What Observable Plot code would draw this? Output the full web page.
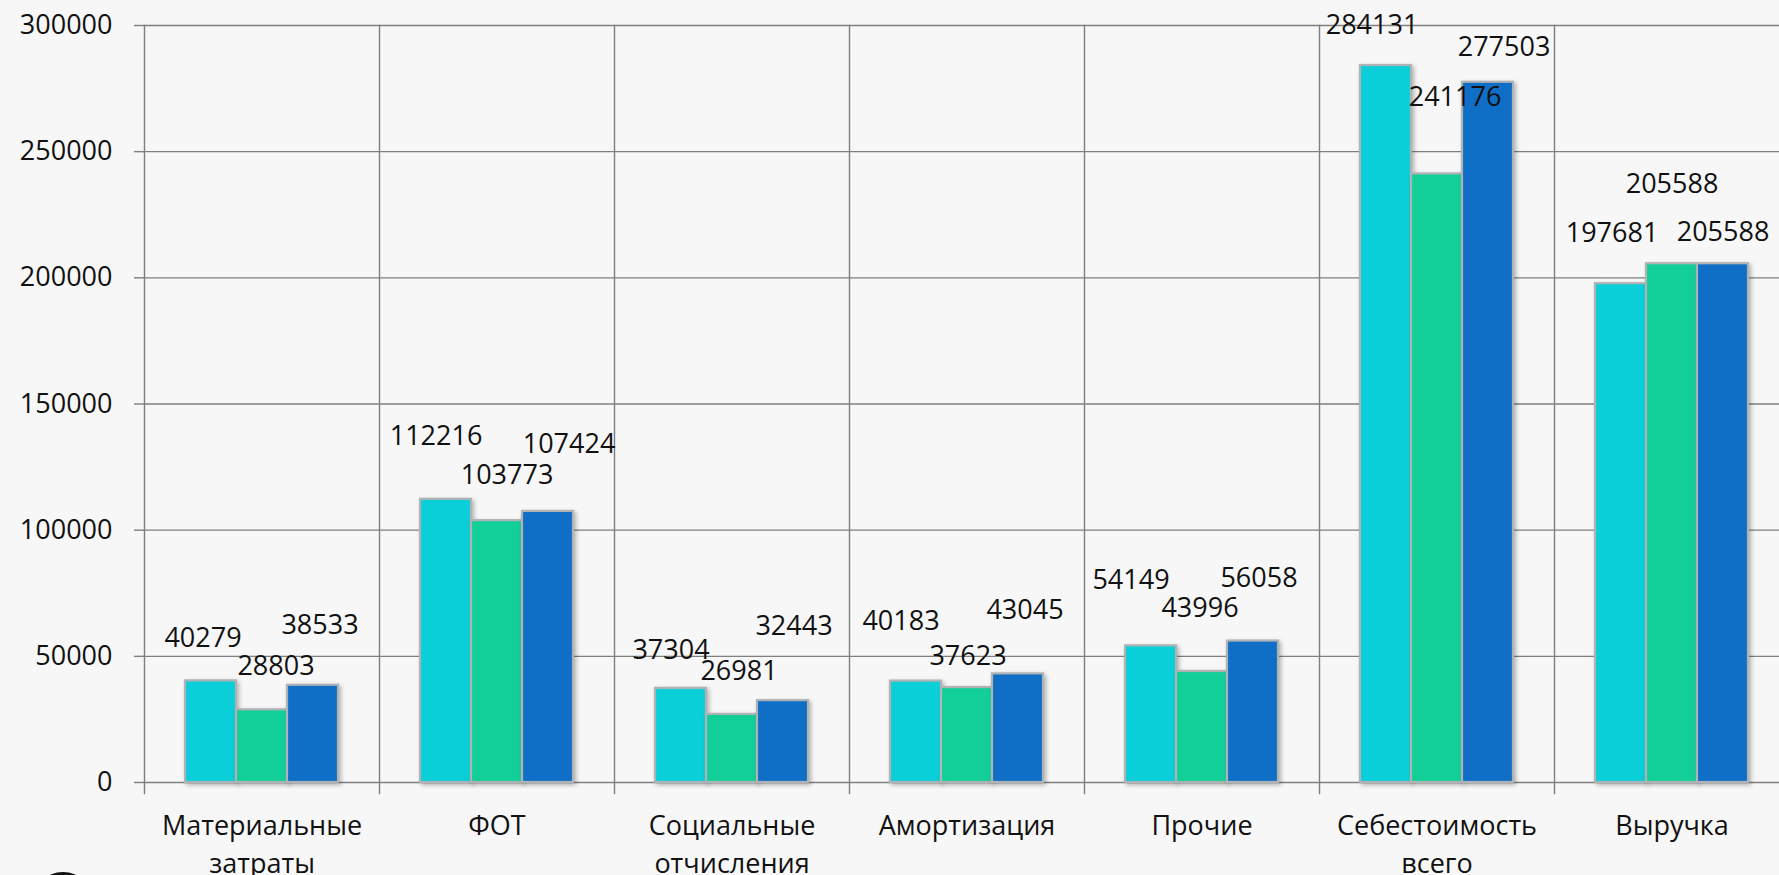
<!DOCTYPE html>
<html>
<head>
<meta charset="utf-8">
<script src="https://cdn.jsdelivr.net/npm/d3@7"></script>
<script src="https://cdn.jsdelivr.net/npm/@observablehq/plot@0.6"></script>
<style>
  html, body { margin: 0; padding: 0; background: #f7f7f7; overflow: hidden; width: 1779px; height: 875px; }
  #chart { position: absolute; left: 0; top: 0; }
  #chart svg { overflow: hidden; }
  .deco { position: absolute; left: 33px; top: 872px; width: 52px; height: 52px; border: 4px solid #111; border-radius: 50%; }
  g[aria-label="bar"] rect { filter: drop-shadow(2px 2px 2px rgba(0,0,0,0.28)); }
</style>
</head>
<body>
<div id="chart"></div>
<div class="deco"></div>
<script>
// ---- data ----
const categories = ["Материальные\nзатраты", "ФОТ", "Социальные\nотчисления", "Амортизация", "Прочие", "Себестоимость\nвсего", "Выручка"];
const seriesNames = ["Ряд 1", "Ряд 2", "Ряд 3"];
const series1 = [40279, 112216, 37304, 40183, 54149, 284131, 197681];
const series2 = [28803, 103773, 26981, 37623, 43996, 241176, 205588];
const series3 = [38533, 107424, 32443, 43045, 56058, 277503, 205588];
const yTicks = [0, 50000, 100000, 150000, 200000, 250000, 300000];

// ---- styles (data-label nudges in px, as placed in the original) ----
const colors = ["#0bcfd8", "#12cf98", "#0f6ec6"];
const labelNudgeX = [
  [-8, -10, -10, -15, -20, -14, -9],
  [14, 10, 7, 1, -2, 18, 0],
  [7, 21, 11, 7, 6, 16, 0]
];
const labelNudgeY = [
  [-43, -63, -38, -60, -66, -40, -50],
  [-43, -45, -43, -31, -63, -77, -79],
  [-60, -67, -74, -64, -63, -35, -31]
];
const gridColor = "#7f7f7f";

const allSeries = [series1, series2, series3];
const rows = [];
allSeries.forEach((vals, s) => {
  vals.forEach((v, i) => rows.push({category: categories[i], series: seriesNames[s], value: v, s, i}));
});

const fmt = d3.format("d");

const plot = Plot.plot({
  width: 1779,
  height: 875,
  marginTop: 25,
  marginBottom: 93,
  marginLeft: 142,
  marginRight: -12,
  style: {background: "transparent", fontFamily: "'Open Sans', sans-serif", fontSize: "27px", color: "#111"},
  fx: {domain: categories, padding: 0, label: null},
  x: {domain: seriesNames, paddingInner: 0, paddingOuter: 0.778, axis: null},
  y: {domain: [0, 300000], label: null},
  color: {domain: seriesNames, range: colors},
  marks: [
    Plot.gridY(yTicks, {stroke: gridColor, strokeOpacity: 1, strokeWidth: 1.4}),
    Plot.frame({anchor: "left", stroke: gridColor, strokeWidth: 1.4, insetBottom: -11}),
    Plot.axisY(yTicks, {tickSize: 10, tickPadding: 22, tickFormat: fmt, stroke: gridColor, strokeWidth: 1.4, fill: "#111", fontSize: 27, label: null}),
    Plot.axisFx({anchor: "bottom", tickSize: 0, tickPadding: 25, lineHeight: 1.42, fontSize: 27, fill: "#111", label: null}),
    Plot.barY(rows, {fx: "category", x: "series", y: "value", fill: "series", stroke: "#b0b3b6", strokeWidth: 2.2}),
    ...rows.map(r =>
      Plot.text([r], {
        fx: "category", x: "series", y: "value",
        text: d => fmt(d.value),
        dx: labelNudgeX[r.s][r.i], dy: labelNudgeY[r.s][r.i],
        fontSize: 27, fill: "#111"
      })
    )
  ]
});
document.getElementById("chart").append(plot);
</script>
</body>
</html>
